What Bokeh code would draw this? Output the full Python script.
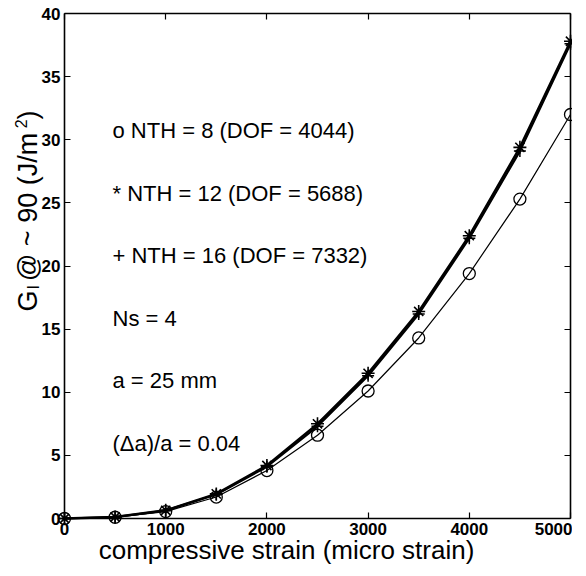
import math
from bokeh.plotting import figure
from bokeh.models import Range1d, LinearAxis, FixedTicker, Label
from bokeh.embed import file_html
from bokeh.resources import INLINE

# ---- data ----
strain = [0, 500, 1000, 1500, 2000, 2500, 3000, 3500, 4000, 4500, 5000]
g_nth8 = [0, 0.10, 0.55, 1.70, 3.80, 6.60, 10.1, 14.3, 19.4, 25.3, 32.0]
g_nth12 = [0, 0.12, 0.65, 1.95, 4.20, 7.50, 11.5, 16.4, 22.4, 29.4, 37.8]
g_nth16 = [0, 0.12, 0.62, 1.90, 4.10, 7.30, 11.3, 16.2, 22.2, 29.1, 37.6]
x_ticks = [0, 1000, 2000, 3000, 4000, 5000]
y_ticks = [0, 5, 10, 15, 20, 25, 30, 35, 40]
notes = ["o NTH = 8 (DOF = 4044)", "* NTH = 12 (DOF = 5688)", "+ NTH = 16 (DOF = 7332)",
         "Ns = 4", "a = 25 mm", "(\u0394a)/a = 0.04"]
x_title = "compressive strain (micro strain)"
y_title = [("G", "normal"), ("I", "sub"), (" @ ~ 90 (J/m", "normal"), ("2", "sup"), (")", "normal")]

FONT = "Liberation Sans"
W, H = 572, 564
FX0, FX1, FY0, FY1 = 64, 570, 13, 518          # frame box in screen pixels
px_x = (FX1 - FX0) / (x_ticks[-1] - x_ticks[0])
px_y = (FY1 - FY0) / (y_ticks[-1] - y_ticks[0])

p = figure(width=W, height=H, output_backend="svg", toolbar_location=None,
           x_axis_type=None, y_axis_type=None,
           x_range=Range1d(x_ticks[0] - FX0 / px_x, x_ticks[-1] + (W - FX1) / px_x),
           y_range=Range1d(y_ticks[0] - (H - FY1) / px_y, y_ticks[-1] + FY0 / px_y),
           min_border_left=0, min_border_right=0, min_border_top=0, min_border_bottom=0)
p.background_fill_color = "white"
p.border_fill_color = "white"
p.outline_line_color = None
p.grid.visible = False

def make_axis(ticks, loc, bounds, labels=True):
    ax = LinearAxis(fixed_location=loc, bounds=bounds)
    ax.ticker = FixedTicker(ticks=ticks)
    ax.minor_tick_line_color = None
    ax.major_tick_in = 6
    ax.major_tick_out = 0
    ax.major_tick_line_width = 1.2
    ax.axis_line_width = 1.6
    ax.major_tick_line_color = "black"
    ax.axis_line_color = "black"
    ax.major_label_text_font = FONT
    ax.major_label_text_font_style = "bold"
    ax.major_label_text_font_size = "17px"
    ax.major_label_text_color = "black"
    ax.major_label_standoff = 4
    if not labels:
        ax.major_label_overrides = {t: "" for t in ticks}
    return ax

xr = (x_ticks[0], x_ticks[-1])
yr = (y_ticks[0], y_ticks[-1])
p.add_layout(make_axis(x_ticks, y_ticks[0], xr), "below")
p.add_layout(make_axis(y_ticks, x_ticks[0], yr), "left")
p.add_layout(make_axis(x_ticks, y_ticks[-1], xr, labels=False), "above")
p.add_layout(make_axis(y_ticks, x_ticks[-1], yr, labels=False), "right")

# ---- series ----
p.line(strain, g_nth8, line_color="black", line_width=1.2)
p.scatter(strain, g_nth8, marker="circle", size=12, fill_color=None,
          line_color="black", line_width=1.3)
p.line(strain, g_nth16, line_color="black", line_width=2.2)
p.scatter(strain, g_nth16, marker="cross", size=12, line_color="black", line_width=1.5)
p.line(strain, g_nth12, line_color="black", line_width=2.4)
p.scatter(strain, g_nth12, marker="asterisk", size=13, line_color="black", line_width=1.6)

# ---- annotations inside plot ----
for i, t in enumerate(notes):
    p.add_layout(Label(x=(112 - FX0) / px_x, y=30.7 - 4.95 * i, text=t, text_font=FONT,
                       text_font_size="22px", text_baseline="middle", text_align="left",
                       text_color="black"))

# ---- axis titles ----
p.add_layout(Label(x=(286 - FX0) / px_x, y=(FY1 - 549) / px_y, text=x_title, text_font=FONT,
                   text_font_size="26px", text_align="center", text_baseline="middle",
                   text_color="black"))

ylab_x = (27 - FX0) / px_x
y_start = 311
main_fs, small_fs = 27, 16
shift = {"normal": 0, "sub": 6, "sup": -7}
adv = {"G": 0.778, "I": 0.278, " @ ~ 90 (J/m": 5.767, "2": 0.556, ")": 0.333}
gap = {"G": 1, "I": 4, " @ ~ 90 (J/m": -3, "2": 0, ")": 0}
pos = 0.0
for txt, kind in y_title:
    fs = main_fs if kind == "normal" else small_fs
    p.add_layout(Label(x=ylab_x + shift[kind] / px_x, y=(FY1 - y_start + pos) / px_y, text=txt,
                       angle=math.pi / 2, text_font=FONT, text_font_size=f"{fs}px",
                       text_align="left", text_baseline="middle", text_color="black"))
    pos += adv[txt] * fs + gap[txt]

open("out.html", "w").write(file_html(p, INLINE))
